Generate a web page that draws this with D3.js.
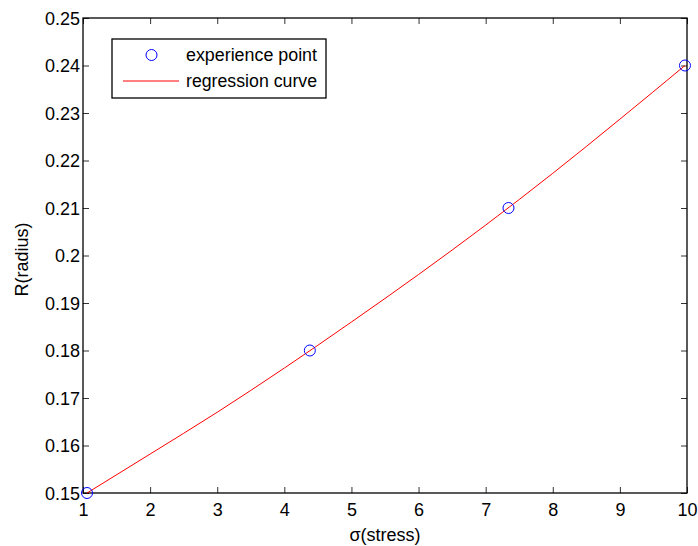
<!DOCTYPE html>
<html>
<head>
<meta charset="utf-8">
<script src="https://cdn.jsdelivr.net/npm/d3@7"></script>
<style>
  html, body { margin: 0; padding: 0; background: #fff; }
  svg { display: block; font-family: "Liberation Sans", Arial, sans-serif; }
</style>
</head>
<body>
<svg id="chart" width="698" height="546"></svg>
<script>
// Experience points
const pointX = [1.06, 4.38, 7.34, 9.97];
const pointY = [0.15, 0.18, 0.21, 0.24];
// Regression curve
const curveX = [1.06, 2, 3, 4, 5, 6, 7, 8, 9, 9.97];
const curveY = [0.15, 0.1582, 0.1670, 0.1763, 0.1860, 0.1960, 0.2064, 0.2173, 0.2287, 0.2400];
// Ticks
const xTicks = [1, 2, 3, 4, 5, 6, 7, 8, 9, 10];
const yTicks = [0.15, 0.16, 0.17, 0.18, 0.19, 0.2, 0.21, 0.22, 0.23, 0.24, 0.25];
const yTickLabels = ["0.15", "0.16", "0.17", "0.18", "0.19", "0.2", "0.21", "0.22", "0.23", "0.24", "0.25"];
const legendLabels = ["experience point", "regression curve"];

const svg = d3.select("#chart");
const L = 83, R = 687, T = 18, B = 493;
const x = d3.scaleLinear().domain([1, 10]).range([L, R]);
const y = d3.scaleLinear().domain([0.15, 0.25]).range([B, T]);
const fs = 18;

svg.append("rect").attr("x", L).attr("y", T).attr("width", R - L).attr("height", B - T)
  .attr("fill", "#fff");

const tickLen = 6;
const gB = svg.append("g").attr("transform", `translate(0,${B})`)
  .call(d3.axisBottom(x).tickValues(xTicks).tickSizeInner(-tickLen).tickSizeOuter(0).tickPadding(10));
const gT = svg.append("g").attr("transform", `translate(0,${T})`)
  .call(d3.axisTop(x).tickValues(xTicks).tickSizeInner(-tickLen).tickSizeOuter(0).tickFormat(""));
const gL = svg.append("g").attr("transform", `translate(${L},0)`)
  .call(d3.axisLeft(y).tickValues(yTicks).tickSizeInner(-tickLen).tickSizeOuter(0).tickPadding(3)
    .tickFormat((d, i) => yTickLabels[i]));
const gR = svg.append("g").attr("transform", `translate(${R},0)`)
  .call(d3.axisRight(y).tickValues(yTicks).tickSizeInner(-tickLen).tickSizeOuter(0).tickFormat(""));

[gB, gT, gL, gR].forEach(g => {
  g.select(".domain").remove();
  g.selectAll(".tick line").attr("stroke", "#333").attr("stroke-width", 1);
  g.selectAll(".tick text").attr("font-size", fs).attr("fill", "#000")
    .attr("font-family", "Liberation Sans, Arial, sans-serif");
});
gB.selectAll(".tick text").attr("dy", "0.71em");
gL.selectAll(".tick text").attr("dy", "0.36em");

svg.append("rect").attr("x", L).attr("y", T).attr("width", R - L).attr("height", B - T)
  .attr("fill", "none").attr("stroke", "#000").attr("stroke-width", 1.3);

const line = d3.line().x((d, i) => x(curveX[i])).y((d, i) => y(curveY[i])).curve(d3.curveMonotoneX);
svg.append("path").datum(curveY).attr("d", line)
  .attr("fill", "none").attr("stroke", "#ff0000").attr("stroke-width", 1);

svg.append("g").selectAll("circle").data(pointY).join("circle")
  .attr("cx", (d, i) => x(pointX[i])).attr("cy", d => y(d)).attr("r", 5.5)
  .attr("fill", "none").attr("stroke", "#0000ff").attr("stroke-width", 1);

svg.append("text").attr("x", (L + R) / 2).attr("y", 541).attr("text-anchor", "middle")
  .attr("font-size", fs).text("σ(stress)");
svg.append("text").attr("transform", `translate(28,${(T + B) / 2 + 4}) rotate(-90)`)
  .attr("text-anchor", "middle").attr("font-size", fs).text("R(radius)");

const lg = svg.append("g");
lg.append("rect").attr("x", 112).attr("y", 39).attr("width", 214).attr("height", 59)
  .attr("fill", "#fff").attr("stroke", "#000").attr("stroke-width", 1.3);
lg.append("circle").attr("cx", 151.5).attr("cy", 55).attr("r", 5.5)
  .attr("fill", "none").attr("stroke", "#0000ff").attr("stroke-width", 1);
lg.append("line").attr("x1", 123).attr("x2", 179).attr("y1", 81).attr("y2", 81)
  .attr("stroke", "#ff0000").attr("stroke-width", 1);
lg.selectAll("text.leg").data(legendLabels).join("text").attr("class", "leg")
  .attr("x", 186).attr("y", (d, i) => 61 + i * 26).attr("font-size", fs)
  .attr("textLength", 131).attr("lengthAdjust", "spacingAndGlyphs")
  .text(d => d);
</script>
</body>
</html>
